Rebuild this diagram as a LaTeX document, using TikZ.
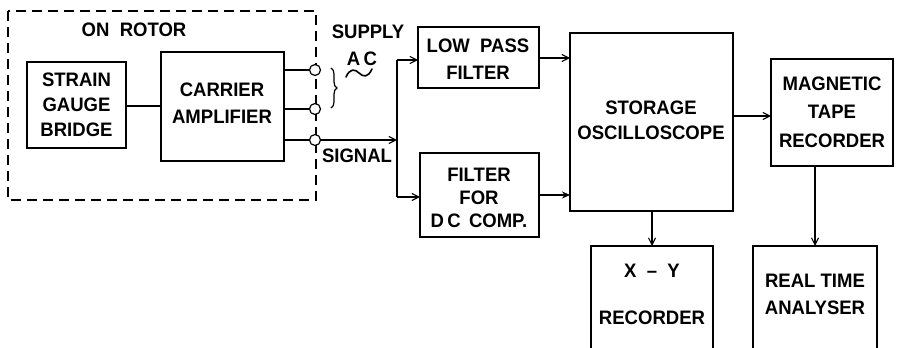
\documentclass[tikz,border=0pt]{standalone}
\usepackage{fontspec}
\setmainfont{Liberation Sans}[FakeStretch=0.95]
\usetikzlibrary{arrows.meta,decorations.pathreplacing}
\begin{document}
\begin{tikzpicture}[x=1pt,y=-1pt,
  line width=1.3pt,
  every node/.style={inner sep=0pt,outer sep=0pt},
  blk/.style={draw,line width=1.3pt,anchor=north west},
  lbl/.style={align=center,font=\fontsize{19.5}{25}\selectfont\bfseries},
  term/.style={circle,draw,fill=white,line width=1.2pt,minimum size=11pt},
  arr/.style={-{Straight Barb[length=7pt,width=7pt,line width=1.1pt]}},
  farr/.style={-{Stealth[length=8pt,width=7pt]}}]
\useasboundingbox (0,0) rectangle (898,348);
\clip (0,0) rectangle (898,348);
\fill[white] (0,0) rectangle (898,348);
% rotor box
\draw[dashed,dash pattern=on 10pt off 6pt,line width=1.2pt] (8,11) rectangle (316,200);
\node[lbl] (onrotor) at (134,30) {ON\ \ ROTOR};
% blocks
\node[blk,minimum width=99pt,minimum height=86pt] (sg) at (27,62) {};
\node[lbl] (sgt) at (sg.center) {STRAIN\\GAUGE\\BRIDGE};
\node[blk,minimum width=123pt,minimum height=109pt] (ca) at (161,52) {};
\node[lbl,font=\fontsize{19.5}{27}\selectfont\bfseries] (cat) at (222,103) {CARRIER\\AMPLIFIER};
\node[blk,minimum width=121pt,minimum height=61pt] (lp) at (418,27) {};
\node[lbl,font=\fontsize{19.5}{27}\selectfont\bfseries] (lpt) at (478,59) {LOW\ \ PASS\\FILTER};
\node[blk,minimum width=119pt,minimum height=84pt] (dc) at (420,153) {};
\node[lbl,font=\fontsize{19.5}{23}\selectfont\bfseries] (dct) at (479,198) {FILTER\\FOR\\D\,C\ \,COMP.};
\node[blk,minimum width=163pt,minimum height=178pt] (so) at (570,33) {};
\node[lbl] (sot) at (651,120) {STORAGE\\OSCILLOSCOPE};
\node[blk,minimum width=122pt,minimum height=107pt] (mt) at (771,59) {};
\node[lbl,font=\fontsize{19.5}{28.5}\selectfont\bfseries] (mtt) at (832,112) {MAGNETIC\\TAPE\\RECORDER};
\node[blk,minimum width=122pt,minimum height=120pt] (xy) at (591,246) {};
\node[lbl,font=\fontsize{19.5}{47}\selectfont\bfseries] (xyt) at (652,294) {X\ \ --\ \ Y\\RECORDER};
\node[blk,minimum width=124pt,minimum height=120pt] (rt) at (753,246) {};
\node[lbl,font=\fontsize{19.5}{27}\selectfont\bfseries] (rtt) at (815,294) {REAL\ TIME\\ANALYSER};
% terminals
\node[term] (t1) at (315,70) {};
\node[term] (t2) at (315,109) {};
\node[term] (t3) at (315,140) {};
\draw (sg.east |- 0,106) -- (ca.west |- 0,106);
\draw (ca.east |- t1) -- (t1.west);
\draw (ca.east |- t2) -- (t2.west);
\draw (ca.east |- t3) -- (t3.west);
% brace and labels
\draw[decorate,decoration={brace,amplitude=6pt},line width=1.2pt] (331,68) -- (331,108);
\node[lbl] (supply) at (368,32) {SUPPLY};
\node[lbl] (ac) at (362,59) {A\,C};
\draw[line width=1.6pt,line cap=round] (346,77) .. controls (350,68) and (355,69) .. (359,73) .. controls (363,77) and (368,78) .. (372,69);
\node[lbl] (signal) at (357,156) {SIGNAL};
% signal distribution
\coordinate (j) at (397,140);
\coordinate (jt) at (397,60);
\coordinate (jb) at (397,197);
\draw[arr] (t3.east) -- (j);
\draw (jt) -- (jb);
\draw[arr] (jt) -- (lp.west |- jt);
\draw[arr] (jb) -- (dc.west |- jb);
\draw[arr] (lp.east |- 0,58) -- (so.west |- 0,58);
\draw[farr] (dc.east |- 0,195) -- (so.west |- 0,195);
\draw[arr] (so.east |- 0,116) -- (mt.west |- 0,116);
\draw[arr] (so.south -| 652,0) -- (xy.north -| 652,0);
\draw[arr] (mt.south -| 815,0) -- (rt.north -| 815,0);
\end{tikzpicture}
\end{document}
